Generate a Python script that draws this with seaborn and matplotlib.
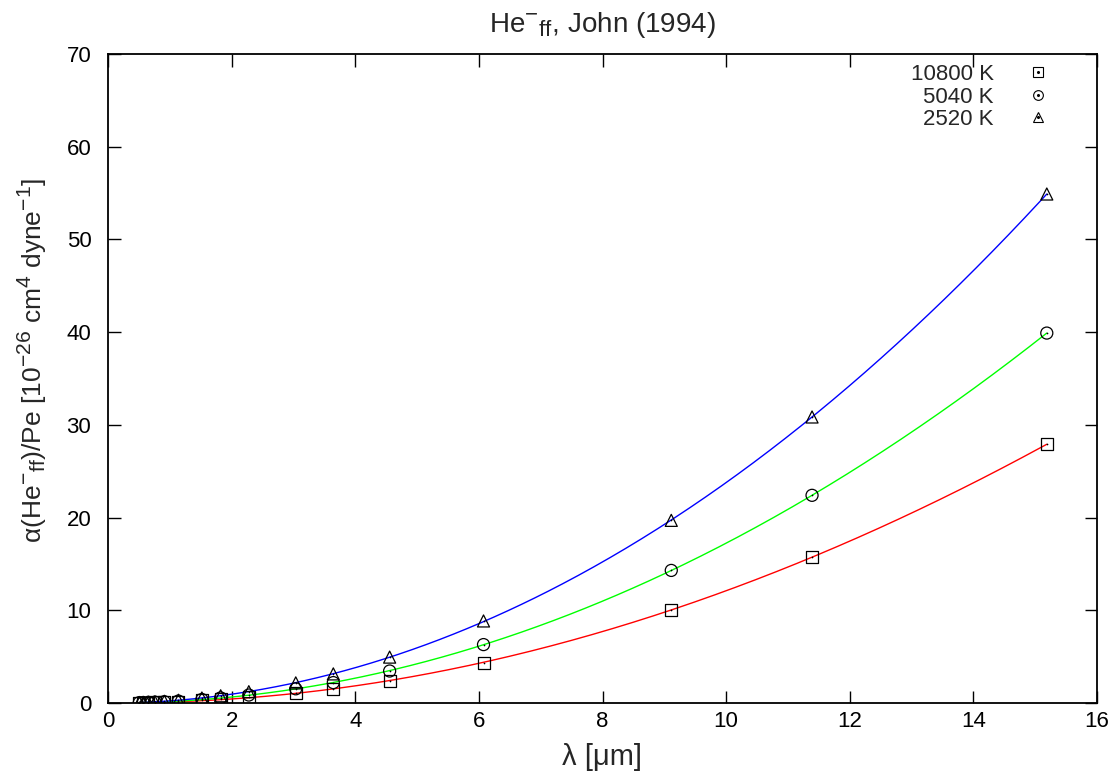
import numpy as np
import pandas as pd
import matplotlib
matplotlib.use("Agg")
import matplotlib.pyplot as plt
import matplotlib._mathtext as _mt
from matplotlib.lines import Line2D
from matplotlib.legend_handler import HandlerTuple
import seaborn as sns

# ---- data ----
wavelength = [0.5063, 0.5695, 0.6509, 0.7594, 0.9113, 1.1391, 1.5188, 1.8225,
              2.2782, 3.0376, 3.6451, 4.5564, 6.0751, 9.1127, 11.390, 15.1878]
alpha_10800 = [0.03, 0.04, 0.05, 0.07, 0.10, 0.15, 0.27, 0.39,
               0.61, 1.07, 1.55, 2.35, 4.35, 10.05, 15.75, 27.9]
alpha_5040 = [0.04, 0.05, 0.07, 0.09, 0.14, 0.21, 0.38, 0.55,
              0.86, 1.53, 2.20, 3.45, 6.30, 14.3, 22.4, 39.9]
alpha_2520 = [0.06, 0.07, 0.10, 0.13, 0.19, 0.30, 0.54, 0.78,
              1.22, 2.17, 3.14, 4.95, 8.85, 19.7, 30.85, 54.9]
series_labels = ["10800 K", "5040 K", "2520 K"]
x_ticks = [0, 2, 4, 6, 8, 10, 12, 14, 16]
y_ticks = [0, 10, 20, 30, 40, 50, 60, 70]

sns.set_style("ticks")
plt.rcParams["font.family"] = ["Liberation Sans", "DejaVu Sans"]
plt.rcParams["mathtext.fontset"] = "custom"
plt.rcParams["mathtext.rm"] = "Liberation Sans"
plt.rcParams["mathtext.it"] = "Liberation Sans:italic"
plt.rcParams["mathtext.bf"] = "Liberation Sans:bold"
_mt.SHRINK_FACTOR = 0.8  # gnuplot-like larger super/subscripts

fig = plt.figure(figsize=(11.18, 7.78), dpi=100)
ax = fig.add_axes([108 / 1118, 1 - 703 / 778, (1097 - 108) / 1118, (703 - 54) / 778])

series = [alpha_10800, alpha_5040, alpha_2520]
markers = ["s", "o", "^"]
colors = ["#ff0000", "#00ff00", "#0000ff"]
lam = np.array(wavelength)

for vals, mk, col in zip(series, markers, colors):
    coef = np.polyfit(lam, np.array(vals), 3)
    grid = np.linspace(lam.min(), lam.max(), 400)
    fit = np.polyval(coef, grid)
    sns.lineplot(x=grid, y=fit, color=col, lw=1.0, ax=ax, legend=False)

for vals, mk, col in zip(series, markers, colors):
    df = pd.DataFrame({"lam": wavelength, "alpha": vals})
    sns.scatterplot(data=df, x="lam", y="alpha", marker=mk, s=75,
                    facecolor="none", edgecolor="black", linewidth=0.9,
                    ax=ax, legend=False, zorder=3)
    sns.scatterplot(data=df, x="lam", y="alpha", marker="o", s=1.5,
                    color="black", linewidth=0, ax=ax, legend=False, zorder=4)

ax.set_xlim(0, 16)
ax.set_ylim(0, 70)
ax.set_xticks(x_ticks)
ax.set_yticks(y_ticks)
ax.tick_params(direction="in", top=True, right=True, length=9, width=1,
               labelsize=16, colors="black")
ax.tick_params(axis="x", pad=6)
ax.tick_params(axis="y", pad=12)
for sp in ax.spines.values():
    sp.set_linewidth(1.3)
    sp.set_color("black")
    sp.set_visible(True)

ax.set_xlabel("λ [μm]", fontsize=21, labelpad=8)
ax.set_ylabel("α(He$^{-}{}_{\\mathrm{ff}}$)/Pe [10$^{-26}$ cm$^{4}$ dyne$^{-1}$]",
              fontsize=19)
ax.yaxis.set_label_coords((49 - 108) / 989, (703 - 360) / 649)
ax.set_title("He$^{-}{}_{\\mathrm{ff}}$, John (1994)", fontsize=20, pad=16)

handles = []
for mk in markers:
    h1 = Line2D([], [], marker=mk, ls="none", mfc="none", mec="black", ms=7, mew=0.8)
    h2 = Line2D([], [], marker="o", ls="none", color="black", ms=1.2)
    handles.append((h1, h2))
ax.legend(handles=handles, labels=series_labels, loc="upper right",
          bbox_to_anchor=(1057.5 / 1118, 1 - 64 / 778), bbox_transform=fig.transFigure,
          frameon=False, markerfirst=False, fontsize=16, handlelength=1.8,
          handletextpad=1.06, borderpad=0, borderaxespad=0, labelspacing=0.07,
          handler_map={tuple: HandlerTuple(ndivide=1)})

fig.savefig("out.png", dpi=100)
